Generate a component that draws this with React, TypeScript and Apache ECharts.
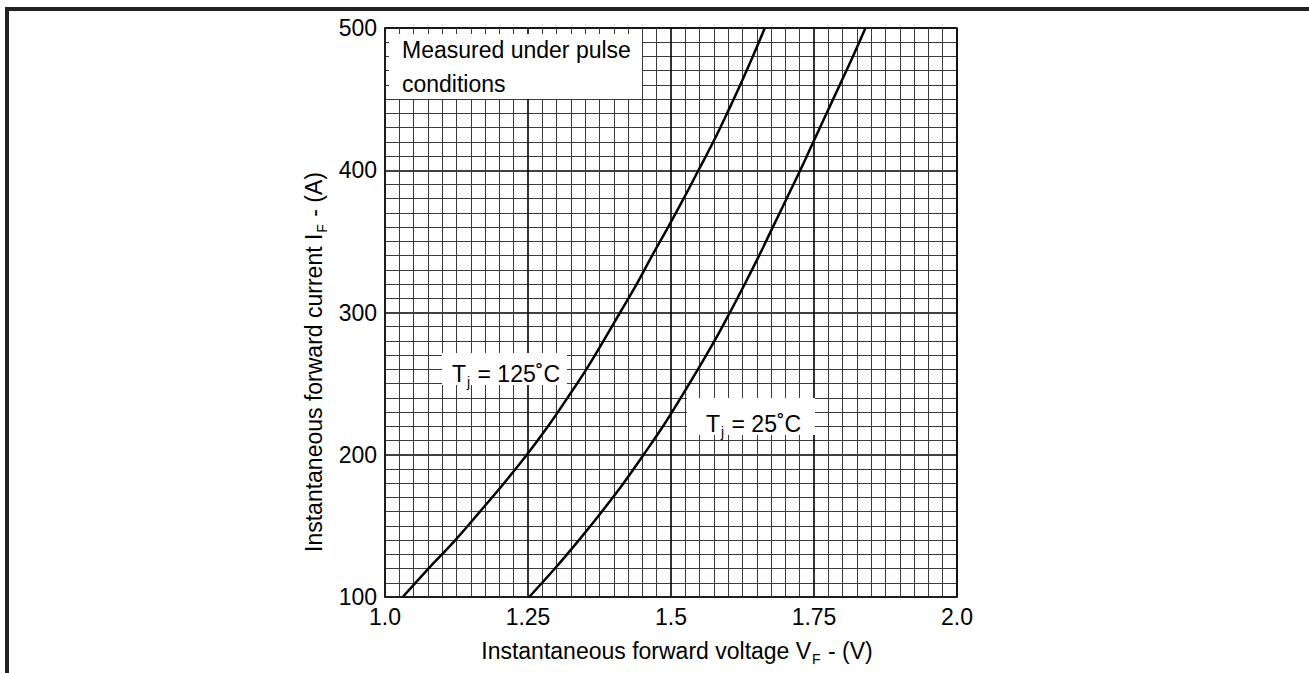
import React, { useEffect, useRef } from "react";
import * as echarts from "echarts";

// Forward characteristic, Tj = 125 °C
const current125 = [100, 120, 140, 160, 180, 200, 220, 240, 260, 280, 300, 320, 340, 360, 380, 400, 420, 440, 460, 480, 500];
const voltage125 = [1.031, 1.076, 1.123, 1.166, 1.208, 1.248, 1.285, 1.319, 1.352, 1.382, 1.411, 1.44, 1.467, 1.495, 1.522, 1.548, 1.574, 1.598, 1.621, 1.643, 1.664];

// Forward characteristic, Tj = 25 °C
const current25 = [100, 120, 140, 160, 180, 200, 220, 240, 260, 280, 300, 320, 340, 360, 380, 400, 420, 440, 460, 480, 500];
const voltage25 = [1.252, 1.297, 1.339, 1.379, 1.417, 1.452, 1.486, 1.517, 1.547, 1.576, 1.603, 1.629, 1.654, 1.678, 1.702, 1.726, 1.749, 1.772, 1.795, 1.818, 1.84];

const xTickLabels = ["1.0", "1.25", "1.5", "1.75", "2.0"];
const yTickLabels = ["100", "200", "300", "400", "500"];

const FONT = "'Liberation Sans', Arial, Helvetica, sans-serif";
const FS = 23;

export default function App() {
  const ref = useRef<HTMLDivElement>(null);

  useEffect(() => {
    if (!ref.current) return;
    const chart = echarts.init(ref.current, null, { renderer: "svg" });

    const d125 = current125.map((c, i) => [voltage125[i], c]);
    const d25 = current25.map((c, i) => [voltage25[i], c]);

    const textRich = {
      t: { fontSize: FS, fontFamily: FONT, fill: "#000" },
      s: { fontSize: 14, fontFamily: FONT, fill: "#000", padding: [15, 1, 0, 1] },
    };

    chart.setOption({
      animation: false,
      backgroundColor: "#fff",
      grid: {
        left: 385,
        top: 28,
        width: 572,
        height: 569,
        show: true,
        borderColor: "#222",
        borderWidth: 1.5,
        backgroundColor: "transparent",
      },
      xAxis: {
        type: "value",
        min: 1,
        max: 2,
        interval: 0.25,
        axisLine: { show: true, lineStyle: { color: "#222", width: 1.5 } },
        axisTick: { show: false },
        axisLabel: {
          color: "#000",
          fontSize: FS,
          fontFamily: FONT,
          margin: 8,
          formatter: (v: number) => xTickLabels[Math.round((v - 1) / 0.25)] ?? "",
        },
        splitLine: { show: true, lineStyle: { color: "#000", width: 1.6 } },
        minorTick: { show: false, splitNumber: 10 },
        minorSplitLine: { show: true, lineStyle: { color: "#3a3a3a", width: 1 } },
      },
      yAxis: {
        type: "value",
        min: 100,
        max: 500,
        interval: 100,
        axisLine: { show: true, lineStyle: { color: "#222", width: 1.5 } },
        axisTick: { show: false },
        axisLabel: {
          color: "#000",
          fontSize: FS,
          fontFamily: FONT,
          margin: 8,
          formatter: (v: number) => yTickLabels[Math.round((v - 100) / 100)] ?? "",
        },
        splitLine: { show: true, lineStyle: { color: "#000", width: 1.6 } },
        minorTick: { show: false, splitNumber: 10 },
        minorSplitLine: { show: true, lineStyle: { color: "#3a3a3a", width: 1 } },
      },
      series: [
        {
          type: "line",
          name: "Tj = 125",
          data: d125,
          smooth: 0.4,
          showSymbol: false,
          lineStyle: { color: "#000", width: 2.5 },
          z: 5,
        },
        {
          type: "line",
          name: "Tj = 25",
          data: d25,
          smooth: 0.4,
          showSymbol: false,
          lineStyle: { color: "#000", width: 2.5 },
          z: 5,
        },
      ],
      graphic: [
        // frame lines
        { type: "rect", shape: { x: 5, y: 7, width: 1304, height: 4 }, style: { fill: "#222" }, z: 100 },
        { type: "rect", shape: { x: 5, y: 7, width: 4, height: 666 }, style: { fill: "#222" }, z: 100 },
        // note box
        { type: "rect", shape: { x: 389, y: 34, width: 253, height: 65 }, style: { fill: "#fff" }, z: 50 },
        {
          type: "text",
          x: 402,
          y: 50,
          z: 51,
          style: { text: "Measured under pulse", fontSize: FS, fontFamily: FONT, fill: "#000", verticalAlign: "middle" },
        },
        {
          type: "text",
          x: 402,
          y: 84,
          z: 51,
          style: { text: "conditions", fontSize: FS, fontFamily: FONT, fill: "#000", verticalAlign: "middle" },
        },
        // Tj = 125 label
        { type: "rect", shape: { x: 442, y: 353, width: 125, height: 32 }, style: { fill: "#fff" }, z: 50 },
        {
          type: "text",
          x: 452,
          y: 374,
          z: 51,
          style: { text: "{t|T}{s|j}{t| = 125˚C}", rich: textRich, verticalAlign: "middle" },
        },
        // Tj = 25 label
        { type: "rect", shape: { x: 687, y: 398, width: 128, height: 37 }, style: { fill: "#fff" }, z: 50 },
        {
          type: "text",
          x: 706,
          y: 424,
          z: 51,
          style: { text: "{t|T}{s|j}{t| = 25˚C}", rich: textRich, verticalAlign: "middle" },
        },
        // axis names
        {
          type: "text",
          x: 677,
          y: 651,
          z: 51,
          style: {
            text: "{t|Instantaneous forward voltage V}{s|F}{t| - (V)}",
            rich: textRich,
            align: "center",
            verticalAlign: "middle",
          },
        },
        {
          type: "text",
          x: 314,
          y: 362,
          rotation: Math.PI / 2,
          z: 51,
          style: {
            text: "{t|Instantaneous forward current I}{s|F}{t| - (A)}",
            rich: textRich,
            align: "center",
            verticalAlign: "middle",
          },
        },
      ],
    });

    return () => chart.dispose();
  }, []);

  return (
    <div
      ref={ref}
      style={{ position: "absolute", left: 0, top: 0, width: 1309, height: 673 }}
    />
  );
}
